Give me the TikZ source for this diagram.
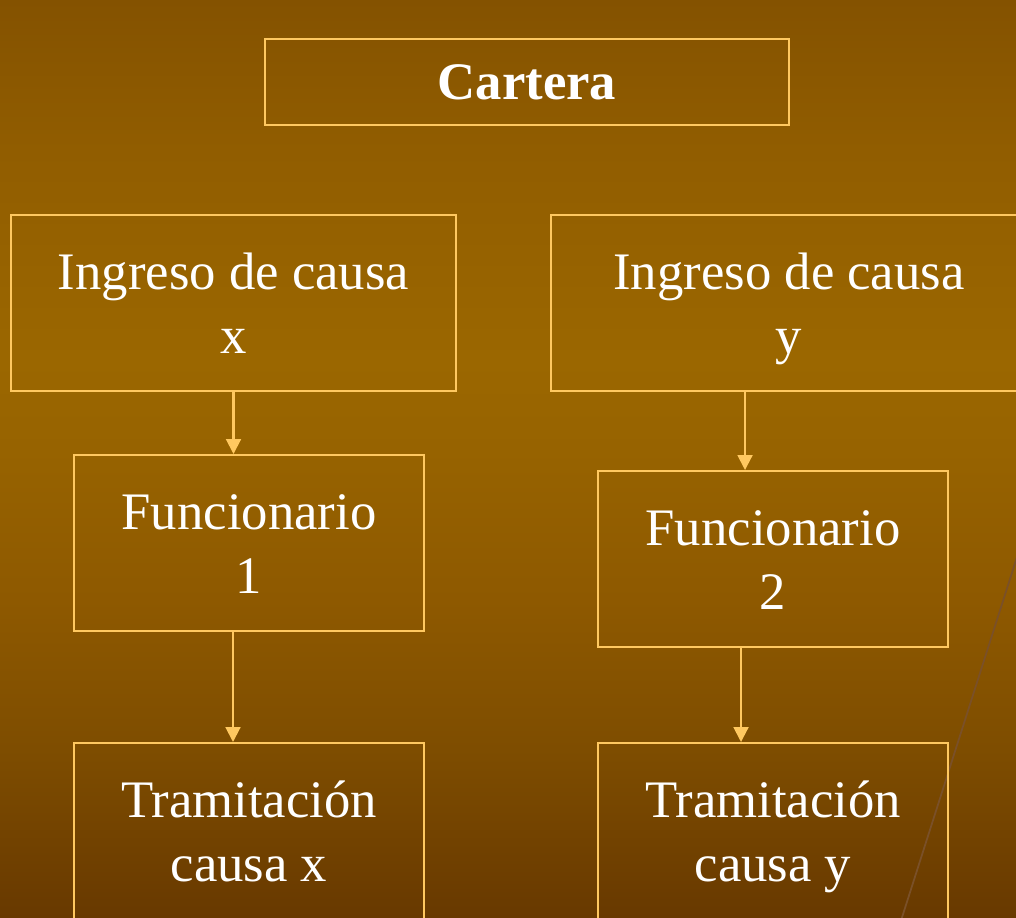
\documentclass[tikz,border=0pt]{standalone}
\usepackage{fontspec}
\setmainfont{Liberation Serif}
\usetikzlibrary{arrows.meta}

\definecolor{bgtop}{HTML}{845200}
\definecolor{bgupper}{HTML}{915D00}
\definecolor{bgmid}{HTML}{9B6700}
\definecolor{bgmidlow}{HTML}{976300}
\definecolor{bglow}{HTML}{8E5900}
\definecolor{bglower}{HTML}{7E4D00}
\definecolor{bgbottom}{HTML}{683900}
\definecolor{boxline}{HTML}{FFC860}
\definecolor{slash}{HTML}{7A5028}

\pgfdeclareverticalshading{slidebg}{100bp}{color(0bp)=(bgbottom); color(25bp)=(bgbottom);
  color(34.2bp)=(bglower); color(42.3bp)=(bglow); color(50.5bp)=(bgmidlow);
  color(55.4bp)=(bgmid); color(66.8bp)=(bgupper); color(75bp)=(bgtop); color(100bp)=(bgtop)}

\begin{document}
\begin{tikzpicture}[x=0.02cm,y=-0.02cm,
    box/.style={draw=boxline,line width=1.15pt,text=white,align=center,
      inner sep=0pt,font=\fontsize{30}{36.5}\selectfont,
      text height=63.5pt,text depth=6pt},
    flow/.style={draw=boxline,line width=1.15pt,-{Triangle[length=8.5pt,width=8.5pt]}}]
  \def\boxwidth{7cm}
  \def\boxheight{3.52cm}

  % background and frame
  \useasboundingbox (0,0) rectangle (1016,918);
  \shade[shading=slidebg] (0,0) rectangle (1016,918);
  \clip (0,0) rectangle (1016,918);
  \draw[slash,line width=1pt] (1040,485) -- (890,955);

  % title
  \node[box,minimum width=10.48cm,minimum height=1.72cm,
    font=\fontsize{30}{36}\selectfont\bfseries,
    text height=26pt,text depth=5.6pt] (cartera) at (527,82) {Cartera};

  % first row
  \node[box,minimum width=8.9cm,minimum height=\boxheight] (ingx) at (233.5,303) {Ingreso de causa\\x};
  \node[box,minimum width=9.52cm,minimum height=\boxheight] (ingy) at (789,303) {Ingreso de causa\\y};

  % officials
  \node[box,minimum width=\boxwidth,minimum height=\boxheight] (func1) at (249,543) {Funcionario\\1};
  \node[box,minimum width=\boxwidth,minimum height=\boxheight] (func2) at (773,559) {Funcionario\\2};

  % processing
  \node[box,minimum width=\boxwidth,minimum height=\boxheight] (tramx) at (249,831) {Tramitación\\causa x};
  \node[box,minimum width=\boxwidth,minimum height=\boxheight] (tramy) at (773,831) {Tramitación\\causa y};

  % arrows
  \draw[flow] (ingx.south) -- (ingx.south |- func1.north);
  \draw[flow] ([xshift=-0.32cm]func1.south) -- ([xshift=-0.32cm]func1.south |- tramx.north);
  \draw[flow] ([xshift=-0.88cm]ingy.south) -- ([xshift=-0.88cm]ingy.south |- func2.north);
  \draw[flow] ([xshift=-0.64cm]func2.south) -- ([xshift=-0.64cm]func2.south |- tramy.north);
\end{tikzpicture}
\end{document}
